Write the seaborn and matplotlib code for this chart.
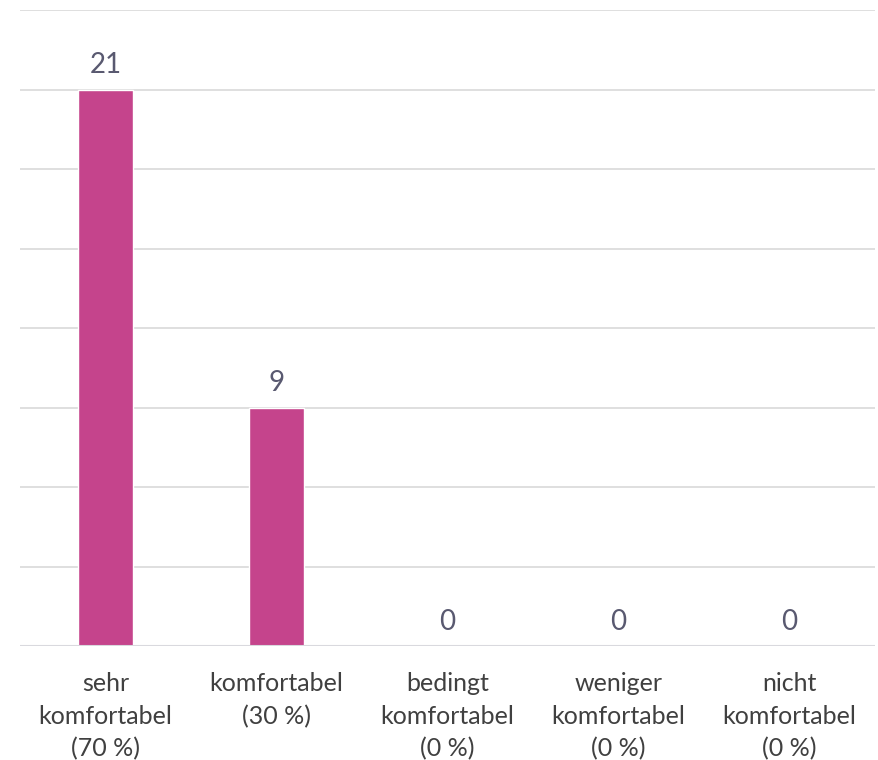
import matplotlib
matplotlib.use("Agg")
import matplotlib.pyplot as plt
import seaborn as sns
import pandas as pd

categories = ["sehr\nkomfortabel\n(70 %)", "komfortabel\n(30 %)",
              "bedingt\nkomfortabel\n(0 %)", "weniger\nkomfortabel\n(0 %)",
              "nicht\nkomfortabel\n(0 %)"]
values = [21, 9, 0, 0, 0]

sns.set_theme(style="white")
plt.rcParams['font.family'] = ['Lato', 'DejaVu Sans']

df = pd.DataFrame({"cat": categories, "val": values})

fig = plt.figure(figsize=(8.79, 7.6), dpi=100)
ax = fig.add_axes([20/879, 1-646/760, 855/879, 636/760])
sns.barplot(data=df, x="cat", y="val", color="#C5448C", width=0.316,
            saturation=1, ax=ax, zorder=3)
ax.set_ylim(0, 24)
ax.set_xlim(-0.5, 4.5)
ax.set_yticks(range(0, 25, 3))
ax.yaxis.grid(True, color="#D9D9D9", linewidth=1.2, zorder=0)
ax.set_axisbelow(True)
ax.tick_params(axis="y", left=False, labelleft=False)
ax.tick_params(axis="x", bottom=False, labelsize=18, colors="#404040", pad=13)
for lbl in ax.get_xticklabels():
    lbl.set_linespacing(1.48)
for s in ax.spines.values():
    s.set_visible(False)
ax.axhline(0, color="#D9D9DE", linewidth=1.5, zorder=4)
ax.set_xlabel("")
ax.set_ylabel("")

for i, v in enumerate(values):
    ax.annotate(str(v), (i, v), xytext=(0, 8), textcoords="offset points",
                ha="center", va="bottom", fontsize=20, color="#595970")

fig.savefig("out.png", dpi=100)
